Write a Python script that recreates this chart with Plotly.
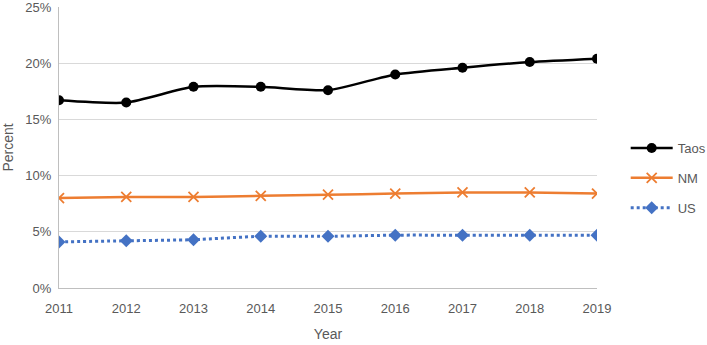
import plotly.graph_objects as go

years = [2011, 2012, 2013, 2014, 2015, 2016, 2017, 2018, 2019]
taos = [0.167, 0.165, 0.179, 0.179, 0.176, 0.190, 0.196, 0.201, 0.204]
nm = [0.080, 0.081, 0.081, 0.082, 0.083, 0.084, 0.085, 0.085, 0.084]
us = [0.041, 0.042, 0.043, 0.046, 0.046, 0.047, 0.047, 0.047, 0.047]

fig = go.Figure()
fig.add_trace(go.Scatter(x=years, y=taos, name="Taos", mode="lines+markers", legendgroup="a",
                         line=dict(color="black", width=2.5, shape="spline", smoothing=0.6),
                         marker=dict(symbol="circle", size=10, color="black")))
fig.add_trace(go.Scatter(x=years, y=nm, name="NM", mode="lines+markers", legendgroup="b",
                         line=dict(color="#ED7D31", width=2.5, shape="spline", smoothing=0.6),
                         marker=dict(symbol="x-thin", size=10,
                                     line=dict(color="#ED7D31", width=1.8), color="#ED7D31")))
fig.add_trace(go.Scatter(x=years, y=us, name="US", mode="lines+markers", legendgroup="c",
                         line=dict(color="#4472C4", width=3, dash="dot", shape="spline", smoothing=0.6),
                         marker=dict(symbol="diamond", size=10, color="#4472C4")))

font = dict(family="Liberation Sans, Arial, sans-serif", size=13, color="#595959")
fig.update_layout(
    width=707, height=345,
    margin=dict(l=59, r=110, t=7, b=57),
    paper_bgcolor="white", plot_bgcolor="white",
    font=font,
    legend=dict(xref="container", yref="container", x=0.885, y=0.484,
                xanchor="left", yanchor="middle", traceorder="grouped",
                font=dict(size=13, color="#595959"), tracegroupgap=10,
                itemwidth=42),
    xaxis=dict(title=dict(text="Year", font=dict(size=14), standoff=14),
               tickvals=years, ticktext=[str(y) for y in years], automargin=False,
               range=[2011, 2019], showgrid=False, showline=True, ticklabeloverflow="allow",
               linecolor="#BFBFBF", linewidth=1, ticks="", zeroline=False),
    yaxis=dict(title=dict(text="Percent", font=dict(size=14), standoff=10),
               range=[0, 0.25], dtick=0.05, tickformat=".0%", automargin=False,
               ticklabeloverflow="allow",
               showgrid=True, gridcolor="#D9D9D9", gridwidth=1,
               showline=True, linecolor="#BFBFBF", zeroline=False, ticks=""),
)
fig.update_xaxes(ticklabelstandoff=8)
fig.update_yaxes(ticklabelstandoff=4)
fig.write_html("out.html")
